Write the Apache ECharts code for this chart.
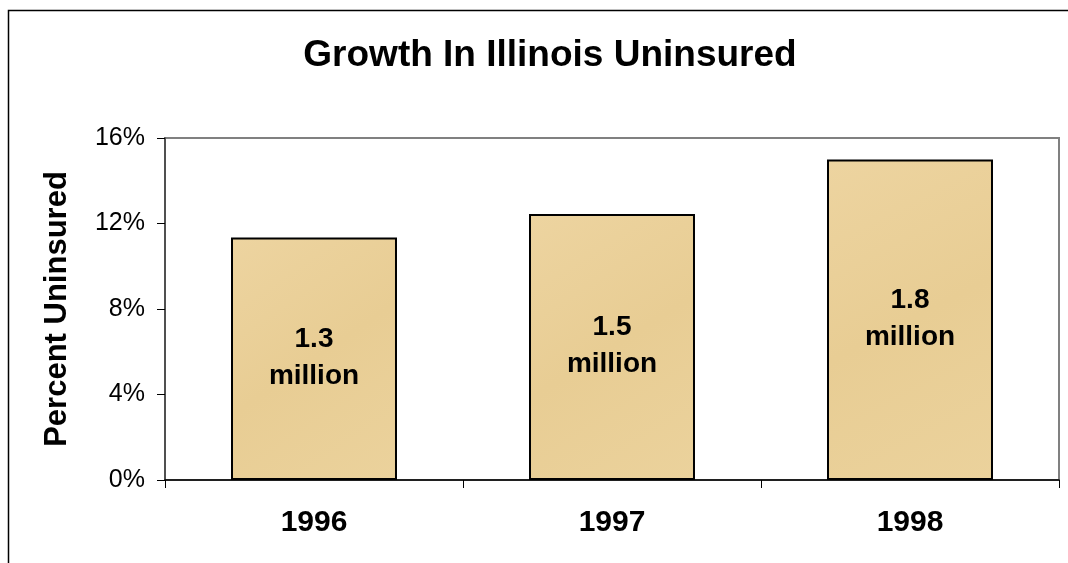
<!DOCTYPE html>
<html>
<head>
<meta charset="utf-8">
<script src="https://cdn.jsdelivr.net/npm/echarts@6/dist/echarts.min.js"></script>
<style>
  html, body { margin: 0; padding: 0; background: #fff; }
  #chart { width: 1068px; height: 563px; }
</style>
</head>
<body>
<div id="chart"></div>
<script>
// Illinois uninsured rate by year, with the number of uninsured people
const years = ['1996', '1997', '1998'];
const percentUninsured = [11.35, 12.45, 15.0];
const uninsuredCount = ['1.3\nmillion', '1.5\nmillion', '1.8\nmillion'];
const yTicks = [0, 4, 8, 12, 16];

const FONT = '"Liberation Sans", Arial, sans-serif';
const chart = echarts.init(document.getElementById('chart'), null, { renderer: 'canvas' });

chart.setOption({
  backgroundColor: '#ffffff',
  animation: false,
  title: {
    text: 'Growth In Illinois Uninsured',
    left: 545,
    textAlign: 'center',
    top: 32,
    textStyle: { fontFamily: FONT, fontSize: 37, fontWeight: 'bold', color: '#000' }
  },
  graphic: [{
    type: 'rect',
    shape: { x: 8.5, y: 10.5, width: 1200, height: 700 },
    style: { fill: 'none', stroke: '#000', lineWidth: 1.5 },
    silent: true
  }],
  grid: {
    left: 165, right: 9, top: 138, bottom: 83,
    show: true, borderColor: '#808080', borderWidth: 2, backgroundColor: 'transparent'
  },
  xAxis: {
    type: 'category',
    data: years,
    axisLine: { lineStyle: { color: '#000', width: 1.5 } },
    axisTick: { show: true, length: 8, lineStyle: { color: '#000', width: 1 } },
    axisLabel: { fontFamily: FONT, fontSize: 30, fontWeight: 'bold', color: '#000', margin: 28 }
  },
  yAxis: {
    type: 'value',
    min: yTicks[0],
    max: yTicks[yTicks.length - 1],
    interval: 4,
    name: 'Percent Uninsured',
    nameLocation: 'middle',
    nameGap: 92,
    nameTextStyle: { fontFamily: FONT, fontSize: 31, fontWeight: 'bold', color: '#000' },
    axisLine: { show: true, lineStyle: { color: '#404040', width: 1.5 } },
    axisTick: { show: true, length: 8, lineStyle: { color: '#000', width: 1 } },
    splitLine: { show: false },
    axisLabel: {
      fontFamily: FONT, fontSize: 25, color: '#000', margin: 20,
      formatter: v => v + '%'
    }
  },
  series: [{
    type: 'bar',
    data: percentUninsured,
    barWidth: '55.7%',
    itemStyle: {
      color: new echarts.graphic.LinearGradient(0, 0, 1, 1, [
        { offset: 0, color: '#EDD4A0' },
        { offset: 0.5, color: '#E8CD94' },
        { offset: 1, color: '#EBD29C' }
      ]),
      borderColor: '#000',
      borderWidth: 2
    },
    label: {
      show: true,
      position: 'inside',
      offset: [0, -1],
      formatter: p => uninsuredCount[p.dataIndex],
      fontFamily: FONT, fontSize: 28, fontWeight: 'bold', color: '#000',
      lineHeight: 37
    }
  }]
});
</script>
</body>
</html>
